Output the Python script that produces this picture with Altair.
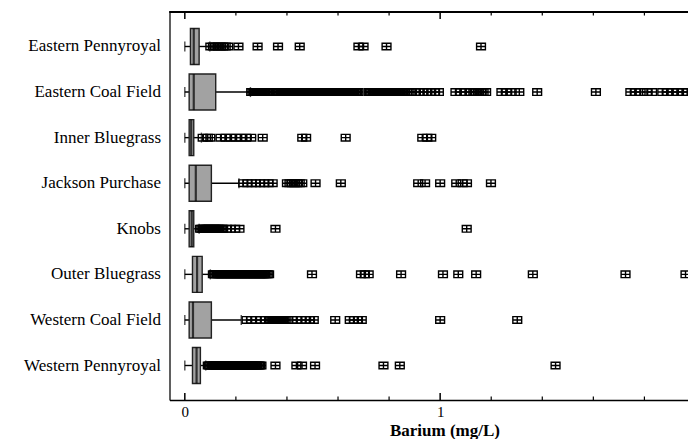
import altair as alt
import pandas as pd

categories = ["Eastern Pennyroyal", "Eastern Coal Field", "Inner Bluegrass", "Jackson Purchase",
              "Knobs", "Outer Bluegrass", "Western Coal Field", "Western Pennyroyal"]
whisker_low = [0.0, 0.0, 0.0, 0.0, 0.0, 0.0, 0.0, 0.0]
q1 = [0.022, 0.017, 0.017, 0.017, 0.017, 0.030, 0.017, 0.030]
median = [0.035, 0.035, 0.025, 0.043, 0.027, 0.048, 0.032, 0.046]
q3 = [0.056, 0.121, 0.035, 0.104, 0.035, 0.068, 0.104, 0.061]
whisker_high = [0.098, 0.257, 0.065, 0.212, 0.056, 0.100, 0.221, 0.082]

out_eastern_pennyroyal = [0.10, 0.11, 0.12, 0.13, 0.14, 0.15, 0.16, 0.17, 0.21, 0.285, 0.365,
                          0.45, 0.68, 0.70, 0.79, 1.16]
out_eastern_coal_field = [0.26, 0.265, 0.27, 0.275, 0.28, 0.285, 0.29, 0.295, 0.30, 0.305, 0.31,
                          0.315, 0.32, 0.33, 0.34, 0.35, 0.36, 0.37, 0.375, 0.38, 0.385, 0.39,
                          0.395, 0.40, 0.405, 0.41, 0.415, 0.42, 0.425, 0.43, 0.435, 0.44, 0.445,
                          0.45, 0.455, 0.46, 0.465, 0.47, 0.475, 0.48, 0.485, 0.49, 0.495, 0.50,
                          0.505, 0.51, 0.515, 0.52, 0.525, 0.53, 0.535, 0.54, 0.545, 0.55, 0.555,
                          0.56, 0.565, 0.57, 0.575, 0.58, 0.585, 0.59, 0.595, 0.60, 0.605, 0.61,
                          0.615, 0.62, 0.625, 0.63, 0.635, 0.64, 0.645, 0.65, 0.655, 0.66, 0.665,
                          0.67, 0.675, 0.68, 0.72, 0.725, 0.73, 0.735, 0.74, 0.745, 0.75, 0.755,
                          0.76, 0.765, 0.77, 0.775, 0.78, 0.785, 0.79, 0.795, 0.80, 0.805, 0.81,
                          0.815, 0.82, 0.825, 0.83, 0.835, 0.84, 0.845, 0.85, 0.86, 0.87, 0.88,
                          0.89, 0.905, 0.92, 0.935, 0.95, 0.965, 0.98, 0.995,
                          1.06, 1.08, 1.10, 1.12, 1.13, 1.14, 1.15, 1.16, 1.17, 1.18,
                          1.24, 1.26, 1.28, 1.31, 1.38, 1.61,
                          1.745, 1.765, 1.785, 1.81, 1.83, 1.87, 1.89, 1.91, 1.93, 1.95, 1.97, 1.99]
out_inner_bluegrass = [0.07, 0.09, 0.10, 0.14, 0.16, 0.18, 0.20, 0.22, 0.24, 0.26, 0.305, 0.46,
                       0.475, 0.63, 0.93, 0.95, 0.965]
out_jackson_purchase = [0.229, 0.245, 0.262, 0.278, 0.295, 0.311, 0.328, 0.344, 0.40, 0.41, 0.42,
                        0.43, 0.44, 0.45, 0.46, 0.512, 0.611, 0.914, 0.941, 1.0, 1.063, 1.088,
                        1.105, 1.199]
out_knobs = [0.06, 0.065, 0.07, 0.075, 0.08, 0.085, 0.09, 0.095, 0.10, 0.105, 0.11, 0.115, 0.12,
             0.125, 0.13, 0.135, 0.14, 0.145, 0.15, 0.165, 0.18, 0.197, 0.214, 0.355, 1.104]
out_outer_bluegrass = [0.11, 0.115, 0.12, 0.125, 0.13, 0.135, 0.14, 0.145, 0.15, 0.155, 0.16,
                       0.165, 0.17, 0.175, 0.18, 0.185, 0.19, 0.195, 0.20, 0.205, 0.21, 0.215,
                       0.22, 0.225, 0.23, 0.235, 0.24, 0.245, 0.25, 0.255, 0.26, 0.265, 0.27,
                       0.275, 0.28, 0.285, 0.29, 0.295, 0.30, 0.305, 0.31, 0.315, 0.32, 0.325,
                       0.33, 0.498, 0.69, 0.705, 0.72, 0.847, 1.011, 1.071,
                       1.141, 1.363, 1.726, 1.961]
out_western_coal_field = [0.242, 0.26, 0.279, 0.298, 0.316, 0.33, 0.335, 0.34, 0.345, 0.35, 0.355,
                          0.36, 0.365, 0.37, 0.375, 0.38, 0.385, 0.39, 0.395, 0.42, 0.44, 0.455,
                          0.475, 0.49, 0.505, 0.589, 0.646, 0.662, 0.678, 0.693, 1.0, 1.302]
out_western_pennyroyal = [0.09, 0.095, 0.10, 0.105, 0.11, 0.115, 0.12, 0.125, 0.13, 0.135, 0.14,
                          0.145, 0.15, 0.155, 0.16, 0.165, 0.17, 0.175, 0.18, 0.185, 0.19, 0.195,
                          0.20, 0.205, 0.21, 0.215, 0.22, 0.225, 0.23, 0.235, 0.24, 0.245, 0.25,
                          0.255, 0.26, 0.265, 0.27, 0.275, 0.28, 0.285, 0.29, 0.295, 0.30,
                          0.355, 0.437, 0.459, 0.51, 0.778, 0.842, 1.452]

x_major = [0, 1, 2]
x_minor = [0.2, 0.4, 0.6, 0.8, 1.2, 1.4, 1.6, 1.8]

outlier_lists = [out_eastern_pennyroyal, out_eastern_coal_field, out_inner_bluegrass,
                 out_jackson_purchase, out_knobs, out_outer_bluegrass,
                 out_western_coal_field, out_western_pennyroyal]

box_df = pd.DataFrame({"region": categories, "lo": whisker_low, "q1": q1, "med": median,
                       "q3": q3, "hi": whisker_high})
out_df = pd.DataFrame([{"region": c, "v": v} for c, vals in zip(categories, outlier_lists) for v in vals])
major_df = pd.DataFrame({"v": x_major})
minor_df = pd.DataFrame({"v": x_minor})

FONT = "Liberation Serif"
W, H = 518.5, 388

xscale = alt.Scale(domain=[-0.06, 1.9707], nice=False, zero=False)
xaxis = alt.Axis(values=x_major, format="d", ticks=False, tickSize=0, grid=False,
                 domainColor="black", domainWidth=1.6, labelFont=FONT, labelFontSize=15,
                 labelColor="black", labelPadding=4, labelFlush=False, labelOverlap=False,
                 title="Barium (mg/L)", titleFont=FONT, titleFontSize=17,
                 titleFontWeight="bold", titleColor="black", titlePadding=3, titleX=275)
yscale = alt.Scale(domain=categories, paddingInner=0, paddingOuter=0.257)
yaxis = alt.Axis(title=None, ticks=False, tickSize=0, grid=False, domainColor="black",
                 domainWidth=1.2, labelFont=FONT, labelFontSize=17, labelColor="black",
                 labelPadding=9, labelLimit=300)


def X(field, **kw):
    return alt.X(field, type="quantitative", scale=xscale, axis=xaxis, **kw)


Y = alt.Y("region:N", sort=categories, scale=yscale, axis=yaxis)

base = alt.Chart(box_df)

whisker = base.mark_rule(color="black", strokeWidth=1.4).encode(x=X("lo"), x2="hi", y=Y)
cap_lo = base.mark_tick(color="black", size=10, thickness=1.4).encode(x=X("lo"), y=Y)
cap_hi = base.mark_tick(color="black", size=10, thickness=1.4).encode(x=X("hi"), y=Y)
box = base.mark_bar(size=36, color="#a2a2a2", stroke="#222222", strokeWidth=1.4).encode(
    x=X("q1"), x2="q3", y=Y)
med = base.mark_tick(color="black", size=36, thickness=2.2).encode(x=X("med"), y=Y)

symbol_path = "M-1,-0.75H1V0.75H-1Z M0,-0.75V0.75 M-1,0H1"
outliers = alt.Chart(out_df).mark_point(shape=symbol_path, size=78, filled=False,
                                        color="black", strokeWidth=1.4, opacity=1).encode(
    x=X("v"), y=Y)

top_line = alt.Chart(major_df).mark_rule(color="black", strokeWidth=1.8).encode(
    x=alt.value(0), x2=alt.value(W), y=alt.value(0))

maj_bottom = alt.Chart(major_df).mark_rule(color="black", strokeWidth=1.5).encode(
    x=X("v"), y=alt.value(H), y2=alt.value(H - 7))
maj_top = alt.Chart(major_df).mark_rule(color="black", strokeWidth=1.5).encode(
    x=X("v"), y=alt.value(0), y2=alt.value(7))
min_bottom = alt.Chart(minor_df).mark_rule(color="black", strokeWidth=1.2).encode(
    x=X("v"), y=alt.value(H), y2=alt.value(H - 3.5))
min_top = alt.Chart(minor_df).mark_rule(color="black", strokeWidth=1.2).encode(
    x=X("v"), y=alt.value(0), y2=alt.value(3.5))

chart = alt.layer(whisker, cap_lo, cap_hi, box, med, outliers, top_line,
                  maj_bottom, maj_top, min_bottom, min_top).properties(
    width=W, height=H,
    autosize=alt.AutoSizeParams(type="none"),
    padding={"left": 161.5, "top": 4, "right": 0, "bottom": 39},
).configure_view(stroke=None).configure(background="white")

chart.save("out.html", embed_options={"renderer": "svg", "actions": False})
